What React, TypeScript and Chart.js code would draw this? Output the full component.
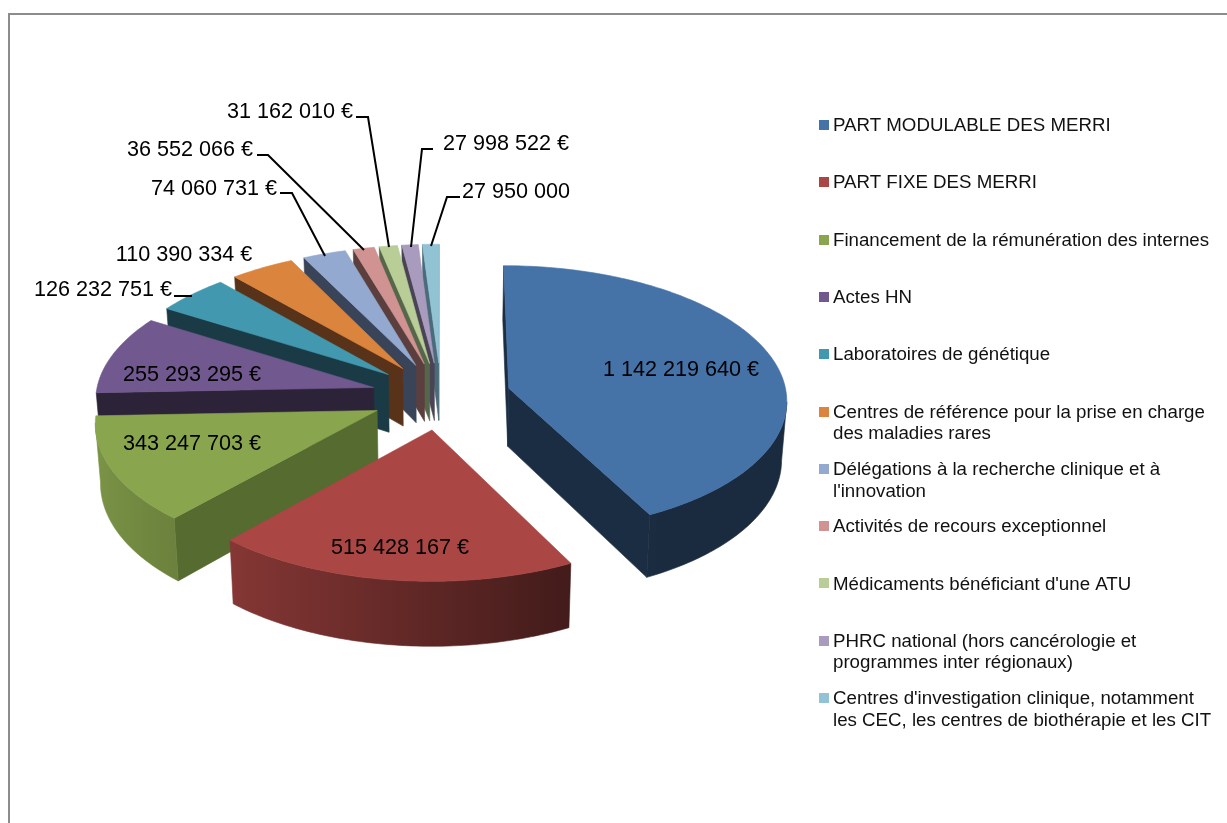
import React, { useEffect, useRef } from "react";
import { Chart, registerables } from "chart.js";

Chart.register(...registerables);

const categories: string[][] = [
  ["PART MODULABLE DES MERRI"],
  ["PART FIXE DES MERRI"],
  ["Financement de la rémunération des internes"],
  ["Actes HN"],
  ["Laboratoires de génétique"],
  ["Centres de référence pour la prise en charge", "des maladies rares"],
  ["Délégations à la recherche clinique et à", "l'innovation"],
  ["Activités de recours exceptionnel"],
  ["Médicaments bénéficiant d'une ATU"],
  ["PHRC national (hors cancérologie et", "programmes inter régionaux)"],
  ["Centres d'investigation clinique, notamment", "les CEC, les centres de biothérapie et les CIT"],
];
const values = [
  1142219640, 515428167, 343247703, 255293295, 126232751, 110390334, 74060731, 36552066, 31162010,
  27998522, 27950000,
];
const valueLabels = [
  "1 142 219 640 €",
  "515 428 167 €",
  "343 247 703 €",
  "255 293 295 €",
  "126 232 751 €",
  "110 390 334 €",
  "74 060 731 €",
  "36 552 066 €",
  "31 162 010 €",
  "27 998 522 €",
  "27 950 000",
];
const topColors = [
  "#4572a7", "#aa4643", "#89a54e", "#71588f", "#4198af", "#db843d",
  "#93a9cf", "#d19392", "#b9cd96", "#a99bbd", "#91c3d5",
];
const wallColors = [
  "#1b2d43", "#451715", "#566b2f", "#2d2339", "#1a3b45", "#59321a",
  "#3a4459", "#5b3e3e", "#56664a", "#4a4356", "#4a6b79",
];

// Text placement of each value label (centre of the text), with optional leader elbow and end.
type Place = { cx: number; cy: number; from?: [number, number]; elbow?: [number, number]; to?: [number, number] };
const labelPlaces: Place[] = [
  { cx: 681, cy: 370 },
  { cx: 400, cy: 548 },
  { cx: 192, cy: 444 },
  { cx: 192, cy: 375 },
  { cx: 103, cy: 290, from: [174, 296], elbow: [192, 296] },
  { cx: 184, cy: 255 },
  { cx: 214, cy: 189, from: [280, 193], elbow: [292, 193], to: [325, 256] },
  { cx: 190, cy: 150, from: [257, 155], elbow: [268, 155], to: [364, 250] },
  { cx: 290, cy: 112, from: [356, 117], elbow: [368, 117], to: [389, 247] },
  { cx: 506, cy: 144, from: [433, 149], elbow: [422, 149], to: [411, 247] },
  { cx: 516, cy: 192, from: [460, 197], elbow: [447, 197], to: [431, 246] },
];

const FONT = '"Liberation Sans", Arial, sans-serif';
const CX = 441;
const CY = 396;
const R = 278;
const D = 3476;
const K = 0.48;
const H = 58.5;

const project = (X: number, Y: number) => {
  const s = 1 / (1 - Y / D);
  return { x: CX + X * s, y: CY + K * Y * s, s };
};
const drop = (p: { x: number; y: number; s: number }) => ({
  x: CX + (p.x - CX) * 0.985,
  y: p.y + H * p.s,
  s: p.s,
});
const shade = (hex: string, f: number) => {
  const n = parseInt(hex.slice(1), 16);
  const c = [(n >> 16) & 255, (n >> 8) & 255, n & 255].map((v) => Math.round(v * f));
  return `rgb(${c[0]},${c[1]},${c[2]})`;
};
const poly = (ctx: CanvasRenderingContext2D, pts: { x: number; y: number }[], color: any) => {
  ctx.beginPath();
  pts.forEach((p, i) => (i ? ctx.lineTo(p.x, p.y) : ctx.moveTo(p.x, p.y)));
  ctx.closePath();
  ctx.fillStyle = color;
  ctx.strokeStyle = color;
  ctx.lineWidth = 0.6;
  ctx.fill();
  ctx.stroke();
};

const pie3d = {
  id: "pie3d",
  beforeDatasetsDraw(chart: any) {
    const ctx: CanvasRenderingContext2D = chart.ctx;
    const arcs = chart.getDatasetMeta(0).data.map((arc: any, index: number) => {
      const th0 = arc.startAngle + Math.PI / 2;
      const th1 = arc.endAngle + Math.PI / 2;
      const mid = (th0 + th1) / 2;
      return { index, th0, th1, mid, off: arc.options.offset };
    });
    arcs.sort((a: any, b: any) => -Math.cos(a.mid) - -Math.cos(b.mid));
    for (const a of arcs) {
      const ex = a.off * Math.sin(a.mid);
      const ey = -a.off * Math.cos(a.mid);
      const top = topColors[a.index];
      const wall = wallColors[a.index];
      const steps = Math.max(2, Math.ceil(((a.th1 - a.th0) * 180) / Math.PI));
      const rim: any[] = [];
      const thetas: number[] = [];
      for (let i = 0; i <= steps; i++) {
        const t = a.th0 + ((a.th1 - a.th0) * i) / steps;
        thetas.push(t);
        rim.push(project(ex + R * Math.sin(t), ey - R * Math.cos(t)));
      }
      const apex = project(ex, ey);
      const quad = (p: any, q: any, color: string) => {
        if (q.x < p.x) poly(ctx, [p, q, drop(q), drop(p)], color);
      };
      quad(apex, rim[0], wall);
      quad(rim[steps], apex, wall);

      // outer wall: one shape with a left-to-right shading that follows the rim's direction
      const vis: number[] = [];
      for (let i = 0; i <= steps; i++) {
        const prevOk = i > 0 && rim[i].x < rim[i - 1].x;
        const nextOk = i < steps && rim[i + 1].x < rim[i].x;
        if (prevOk || nextOk) vis.push(i);
      }
      if (vis.length > 1) {
        const strip = vis.map((i) => rim[i]);
        const right = strip[0].x;
        const left = strip[strip.length - 1].x;
        const grad = ctx.createLinearGradient(left, 0, right, 0);
        vis.forEach((i) => {
          const f = Math.min(0.9, Math.max(0.38, 0.55 - 0.35 * Math.sin(thetas[i])));
          grad.addColorStop((rim[i].x - left) / (right - left), shade(top, f));
        });
        poly(ctx, [...strip, ...strip.slice().reverse().map(drop)], grad);
      }
      poly(ctx, [apex, ...rim], top);
    }

    // value labels and leader lines
    ctx.textAlign = "center";
    ctx.textBaseline = "middle";
    ctx.font = `21.6px ${FONT}`;
    ctx.fillStyle = "#000";
    valueLabels.forEach((text, i) => {
      const p = labelPlaces[i];
      ctx.fillText(text, p.cx, p.cy);
      if (p.from && p.elbow) {
        ctx.beginPath();
        ctx.moveTo(p.from[0], p.from[1]);
        ctx.lineTo(p.elbow[0], p.elbow[1]);
        if (p.to) ctx.lineTo(p.to[0], p.to[1]);
        ctx.strokeStyle = "#000";
        ctx.lineWidth = 2;
        ctx.stroke();
      }
    });

    // legend
    ctx.textAlign = "left";
    ctx.font = `18.7px ${FONT}`;
    categories.forEach((lines, i) => {
      const y = 125 + i * 57.3;
      ctx.fillStyle = topColors[i];
      ctx.fillRect(819, Math.round(y) - 5, 10, 10);
      ctx.fillStyle = "#111";
      lines.forEach((line, j) => ctx.fillText(line, 833, y + 1 + j * 21.6));
    });
    return false;
  },
};

export default function App() {
  const ref = useRef<HTMLCanvasElement>(null);
  useEffect(() => {
    const chart = new Chart(ref.current as HTMLCanvasElement, {
      type: "pie",
      data: {
        labels: categories.map((c) => c.join(" ")),
        datasets: [{ data: values, backgroundColor: topColors, offset: 70, borderWidth: 0 }],
      },
      options: {
        responsive: false,
        animation: false,
        plugins: { legend: { display: false }, tooltip: { enabled: false } },
      },
      plugins: [pie3d],
    } as any);
    return () => chart.destroy();
  }, []);
  return (
    <div style={{ position: "fixed", inset: 0, overflow: "hidden", background: "#fff" }}>
      <div
        style={{
          position: "absolute",
          left: 8,
          top: 13,
          width: 1400,
          height: 1000,
          border: "2px solid #8c8c8c",
        }}
      />
      <canvas ref={ref} width={1227} height={823} style={{ position: "absolute", left: 0, top: 0 }} />
    </div>
  );
}
